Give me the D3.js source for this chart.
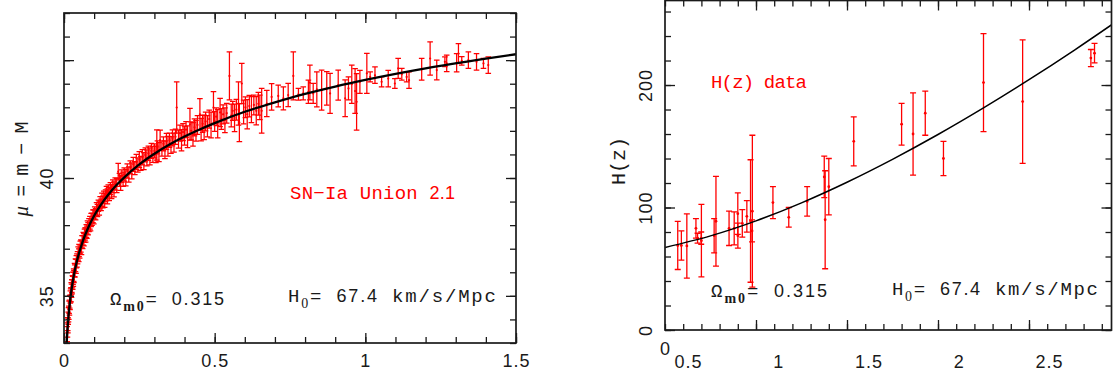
<!DOCTYPE html>
<html>
<head>
<meta charset="utf-8">
<script src="https://cdn.jsdelivr.net/npm/d3@7"></script>
<style>
  html, body { margin: 0; padding: 0; background: #fff; }
  svg { display: block; }
</style>
</head>
<body>
<svg id="chart" width="1113" height="379"></svg>
<script>
// ── SN-Ia Union 2.1 ────────────────────────────────────────
const snZ = [
  0.0105,0.0115,0.0125,0.013,0.014,0.015,0.016,0.017,0.018,0.019,
  0.020,0.021,0.022,0.023,0.024,0.025,0.026,0.027,0.028,0.029,
  0.030,0.031,0.032,0.033,0.035,0.036,0.038,0.040,0.041,0.043,
  0.045,0.047,0.049,0.050,0.052,0.054,0.056,0.058,0.060,0.062,
  0.064,0.066,0.068,0.070,0.072,0.074,0.076,0.078,0.080,0.083,
  0.086,0.088,0.090,0.093,0.096,0.099,
  0.102,0.105,0.108,0.111,0.114,0.117,0.120,0.123,0.126,0.129,
  0.132,0.135,0.138,0.141,0.144,0.147,0.150,0.154,0.158,0.162,
  0.166,0.170,0.175,0.180,0.184,0.188,0.192,0.196,0.200,0.205,
  0.210,0.215,0.220,0.225,0.230,0.235,0.240,0.245,0.250,0.255,
  0.260,0.265,0.270,0.275,0.280,0.285,0.290,0.295,
  0.300,0.305,0.308,0.310,0.315,0.319,0.325,0.330,0.335,0.340,
  0.345,0.350,0.355,0.360,0.365,0.370,0.374,0.380,0.385,0.390,
  0.395,0.400,0.405,0.410,0.418,0.422,0.428,0.433,0.438,0.443,
  0.451,0.455,0.460,0.465,0.470,0.476,0.482,0.488,0.496,0.500,
  0.505,0.510,0.518,0.522,0.528,0.534,0.540,0.549,0.555,0.560,
  0.566,0.572,0.579,0.582,0.590,0.596,0.602,0.608,0.615,0.622,
  0.630,0.638,0.645,0.650,
  0.656,0.673,0.689,0.711,0.728,0.744,0.761,0.778,0.794,0.811,
  0.816,0.827,0.839,0.855,0.872,0.883,0.910,0.933,0.944,0.955,
  0.966,0.971,0.982,1.005,1.016,1.032,1.054,1.076,1.098,1.109,
  1.121,1.137,1.145,1.187,1.215,1.237,1.264,1.270,1.303,1.309,
  1.320,1.342,1.369,1.392,1.408
];
const snMu = [
  33.38,33.55,33.80,33.75,34.05,34.20,34.28,34.52,34.50,34.75,
  34.72,34.95,35.02,35.05,35.30,35.22,35.42,35.38,35.60,35.55,
  35.75,35.70,35.88,35.82,36.10,36.05,36.30,36.25,36.45,36.50,
  36.62,36.80,36.72,36.92,36.88,37.05,37.12,37.05,37.30,37.28,
  37.42,37.38,37.55,37.62,37.58,37.75,37.70,37.90,37.85,38.00,
  38.10,38.02,38.22,38.25,38.38,38.35,
  38.52,38.46,38.68,38.62,38.82,38.72,38.95,38.86,39.08,38.98,
  39.18,39.05,39.25,39.38,39.22,39.45,39.32,39.55,39.42,39.65,
  39.52,39.75,39.68,40.27,39.92,39.80,40.08,39.95,40.15,40.02,
  40.30,40.15,40.45,40.30,40.58,40.42,40.68,40.55,40.78,40.62,
  40.88,40.72,40.98,40.85,41.05,40.92,41.15,41.00,
  41.15,41.00,41.40,41.30,41.10,41.61,41.25,41.45,41.20,41.55,
  41.35,41.60,41.40,41.70,41.50,41.75,42.99,41.65,41.90,41.60,
  41.95,41.80,42.05,41.75,42.28,42.00,41.85,42.15,42.00,42.25,
  42.70,42.05,42.30,42.15,42.40,42.20,42.50,42.25,42.99,42.40,
  42.60,42.30,42.78,42.50,42.70,42.45,42.75,44.33,42.65,42.85,
  42.55,42.90,43.16,42.35,44.01,42.80,43.00,42.70,43.05,42.90,
  43.10,42.85,43.15,43.00,
  42.85,43.16,43.44,43.48,43.38,43.52,44.33,43.55,43.59,43.66,
  44.05,43.59,43.76,43.73,43.80,43.59,43.94,43.38,43.80,43.98,
  43.69,43.23,44.08,44.44,44.29,44.36,44.08,44.22,44.01,44.65,
  44.40,44.29,44.15,44.61,45.07,44.58,44.93,44.86,44.89,45.28,
  44.97,45.00,44.93,44.86,44.79
];
const snErr = [
  .32,.30,.28,.32,.26,.30,.28,.26,.32,.27,
  .30,.26,.28,.30,.26,.28,.27,.30,.26,.28,
  .26,.30,.27,.26,.28,.26,.27,.30,.26,.28,
  .26,.28,.27,.26,.28,.27,.26,.30,.26,.28,
  .27,.26,.28,.26,.30,.27,.26,.28,.26,.28,
  .27,.26,.28,.26,.27,.30,
  .26,.24,.28,.26,.24,.30,.26,.24,.28,.25,
  .26,.30,.25,.27,.32,.26,.28,.25,.30,.27,
  .32,.26,.30,.35,.28,.32,.27,.30,.28,.35,
  .30,.32,.28,.34,.30,.28,.32,.30,.34,.30,
  .32,.36,.30,.34,.30,.36,.32,.34,
  .30,.35,.64,.28,.40,.42,.32,.30,.38,.34,
  .42,.30,.36,.34,.40,.32,1.09,.38,.34,.45,
  .36,.40,.34,.46,.67,.38,.50,.36,.44,.40,
  .67,.48,.36,.52,.40,.45,.38,.55,.67,.42,
  .38,.60,.60,.44,.40,.52,.42,1.02,.48,.40,
  .58,.44,.92,.81,.85,.50,.44,.62,.46,.55,
  .42,.60,.48,.52,
  .95,.56,.56,.46,.49,.49,1.02,.25,.28,.49,
  .74,.42,.74,.85,.71,.85,.64,.78,.49,.81,
  .95,1.20,.49,.85,.21,.35,.21,.35,.21,.42,
  .25,.21,.35,.46,.71,.42,.21,.35,.39,.42,
  .18,.35,.35,.21,.35
];

// ΛCDM model curve, Ωm0 = 0.315, H0 = 67.4
const muCurveZ = [0.008,0.01,0.012,0.015,0.02,0.025,0.03,0.035,0.04,0.05,
  0.06,0.07,0.08,0.09,0.1,0.12,0.15,0.175,0.2,0.25,0.3,0.35,0.4,0.45,0.5,
  0.6,0.7,0.8,0.9,1.0,1.2,1.4,1.5];
const muCurve = [32.77,33.26,33.66,34.15,34.78,35.27,35.68,36.02,36.32,36.82,
  37.23,37.58,37.88,38.15,38.40,38.82,39.34,39.71,40.03,40.58,41.03,41.42,41.76,42.06,42.33,
  42.81,43.21,43.57,43.88,44.16,44.65,45.06,45.25];

// ── H(z) data ───────────────────────────────────────────────
const hzZ = [0.07,0.09,0.12,0.17,0.179,0.199,0.20,0.27,0.28,0.352,
  0.3802,0.40,0.4004,0.4247,0.4497,0.47,0.4783,0.48,0.593,0.68,
  0.781,0.875,0.88,0.90,1.037,1.30,1.363,1.43,1.53,1.75,1.965,2.34,2.36];
const hzH = [69,69,68.6,83,75,75,72.9,77,88.8,83,
  83,95,77,87.1,92.8,89,80.9,97,104,92,
  105,125,90,117,154,168,160,177,140,202,186.5,222,226];
const hzErr = [19.6,12,26.2,8,4,5,29.6,14,36.6,14,
  13.5,17,10.2,11.2,12.9,50,9,62,13,8,
  12,17,40,23,20,17,33.6,18,14,40,50.4,7,8];

const hzCurveZ = [0,0.25,0.5,0.75,1,1.25,1.5,1.75,2,2.25,2.5];
const hzCurve = [67.4,76.86,89.11,103.83,120.66,139.33,159.59,181.31,204.32,228.55,253.90];

// ── tick labels ─────────────────────────────────────────────
const snXTicks = [0, 0.5, 1, 1.5];
const snYMajor = [35, 40, 45];
const snYLabels = [35, 40];
const hzYMajor = [0, 100, 200];
const hzXMajor = [0.5, 1, 1.5, 2];
const hzXLabels = [0.5, 1, 1.5, 2, 2.5];

// ── layout ──────────────────────────────────────────────────
const RED = '#ff0000';
const INK = '#1a1a1a';
const SANS = "'Liberation Sans', Arial, sans-serif";
const MONO = "'Liberation Mono', 'Courier New', monospace";
const SERIF = "'Liberation Serif', 'Times New Roman', serif";

const L = { x0: 64, x1: 516, y0: 13, y1: 343 };
const R = { x0: 665, x1: 1111.5, y0: 0.5, y1: 330 };

const xSN = d3.scaleLinear().domain([0, 1.5]).range([L.x0, L.x1]);
const ySN = d3.scaleLinear().domain([33, 47]).range([L.y1, L.y0]);
const xHz = d3.scaleLinear().domain([0, (R.x1 - R.x0) / 182]).range([R.x0, R.x1]);
const yHz = d3.scaleLinear().domain([0, 269]).range([R.y1, R.y0]);
// the x labels of the right panel sit off their ticks in the original
const xHzLab = d3.scaleLinear().domain([0.5, 2.5]).range([688, 1049]);

const svg = d3.select('#chart');
const defs = svg.append('defs');

// ── helpers ─────────────────────────────────────────────────

function ticks(g, axis, scale, vals, len, tx, ty) {
  g.append('g')
    .attr('transform', `translate(${tx},${ty})`)
    .call(axis(scale).tickValues(vals).tickSize(-len).tickFormat(''))
    .call(s => s.select('.domain').remove())
    .selectAll('line')
    .attr('stroke', INK)
    .attr('stroke-width', 1.3);
}

function frame(box, x, y, xMaj, xMin, yMaj, yMin) {
  const g = svg.append('g');
  [[xMin, 6], [xMaj, 10]].forEach(([v, n]) => {
    ticks(g, d3.axisBottom, x, v, n, 0, box.y1);
    ticks(g, d3.axisTop, x, v, n, 0, box.y0);
  });
  [[yMin, 6], [yMaj, 10]].forEach(([v, n]) => {
    ticks(g, d3.axisLeft, y, v, n, box.x0, 0);
    ticks(g, d3.axisRight, y, v, n, box.x1, 0);
  });
  g.append('rect')
    .attr('x', box.x0).attr('y', box.y0)
    .attr('width', box.x1 - box.x0).attr('height', box.y1 - box.y0)
    .attr('fill', 'none').attr('stroke', INK).attr('stroke-width', 1.7);
}

function clip(id, box) {
  defs.append('clipPath').attr('id', id)
    .append('rect')
    .attr('x', box.x0).attr('y', box.y0)
    .attr('width', box.x1 - box.x0).attr('height', box.y1 - box.y0);
  return svg.append('g').attr('clip-path', `url(#${id})`);
}

function errorBars(g, xs, vs, es, x, y, cap, r, w) {
  const data = xs.map((z, i) => ({ z, v: vs[i], e: es[i] }));
  g.append('g').selectAll('path')
    .data(data)
    .join('path')
    .attr('d', d => {
      const px = x(d.z), t = y(d.v + d.e), b = y(d.v - d.e);
      return `M${px},${t}V${b}M${px - cap},${t}H${px + cap}M${px - cap},${b}H${px + cap}`;
    })
    .attr('fill', 'none')
    .attr('stroke', RED)
    .attr('stroke-width', w);
  g.append('g').selectAll('circle')
    .data(data)
    .join('circle')
    .attr('cx', d => x(d.z)).attr('cy', d => y(d.v))
    .attr('r', r).attr('fill', RED);
}

function curve(g, zs, vs, x, y, w) {
  g.append('path')
    .datum(zs.map((z, i) => [z, vs[i]]))
    .attr('d', d3.line().x(d => x(d[0])).y(d => y(d[1])).curve(d3.curveMonotoneX))
    .attr('fill', 'none').attr('stroke', '#000').attr('stroke-width', w);
}

function xLabels(scale, vals, ty, dy) {
  const g = svg.append('g').attr('transform', `translate(0,${ty})`)
    .call(d3.axisBottom(scale).tickValues(vals).tickSize(0).tickFormat(d3.format('~g')));
  g.select('.domain').remove();
  g.attr('font-family', SANS).attr('font-size', 18);
  g.selectAll('text').attr('y', dy).attr('dy', null)
    .attr('fill', INK).attr('letter-spacing', 1);
}

function yLabels(scale, vals, xBase) {
  const g = svg.append('g').attr('transform', `translate(${xBase},0)`)
    .call(d3.axisLeft(scale).tickValues(vals).tickSize(0).tickPadding(0));
  g.select('.domain').remove();
  g.attr('font-family', SANS).attr('font-size', 18);
  g.selectAll('text')
    .attr('x', 0).attr('dy', null)
    .attr('transform', 'rotate(-90)')
    .attr('text-anchor', 'middle')
    .attr('fill', INK).attr('letter-spacing', 1);
}

// text pieces (letters in mono, digits in sans, optional subscripts),
// spaced out to the width seen in the picture
function note(x, y, parts, width, color) {
  const t = svg.append('text')
    .attr('x', x).attr('y', y)
    .attr('font-family', MONO).attr('font-size', 19)
    .attr('fill', color);
  let shift = 0;
  parts.forEach(p => {
    const dy = (p.sub ? 6 : 0) - shift;
    shift = p.sub ? 6 : 0;
    const s = t.append('tspan').attr('dy', dy).text(p.t);
    if (p.num) s.attr('font-family', SANS).attr('font-size', 18);
    if (p.sub) s.attr('font-family', SERIF).attr('font-size', 14)
      .attr('font-weight', p.bold ? 'bold' : null);
  });
  if (width) t.attr('textLength', width).attr('lengthAdjust', 'spacing');
  return t;
}

function axisTitle(cx, cy, parts, width) {
  const t = svg.append('text')
    .attr('transform', `translate(${cx},${cy}) rotate(-90)`)
    .attr('text-anchor', 'middle')
    .attr('font-family', MONO).attr('font-size', 20)
    .attr('fill', INK);
  parts.forEach(p => {
    const s = t.append('tspan').text(p.t);
    if (p.italic) s.attr('font-family', SERIF).attr('font-style', 'italic').attr('font-size', 21);
  });
  t.attr('textLength', width).attr('lengthAdjust', 'spacing');
}

const omegaParts = [{ t: 'Ω' }, { t: 'm0', sub: true, bold: true }, { t: '= ' }, { t: '0.315', num: true }];
const hubbleParts = [{ t: 'H' }, { t: '0', sub: true }, { t: '= ' }, { t: '67.4', num: true }, { t: ' km/s/Mpc' }];

// ── left panel: distance modulus ────────────────────────────
const gL = clip('clipL', L);
errorBars(gL, snZ, snMu, snErr, xSN, ySN, 2.8, 1.1, 1.25);
curve(gL, muCurveZ, muCurve, xSN, ySN, 2.3);

frame(L, xSN, ySN, snXTicks, d3.range(0, 1.501, 0.1),
  snYMajor, d3.range(33, 47.01, 1));
xLabels(xSN, snXTicks, L.y1, 24);
yLabels(ySN, snYLabels, 53);
axisTitle(28, 169, [{ t: 'μ', italic: true }, { t: '=m−M' }], 95);

note(290, 199, [{ t: 'SN−Ia Union ' }, { t: '2.1', num: true }], 165, RED);
note(110, 305, omegaParts, 114, INK);
note(288, 302, hubbleParts, 208, INK);

// ── right panel: H(z) ───────────────────────────────────────
const gR = clip('clipR', R);
errorBars(gR, hzZ, hzH, hzErr, xHz, yHz, 3, 1.4, 1.3);
curve(gR, hzCurveZ, hzCurve, xHz, yHz, 1.5);

frame(R, xHz, yHz, hzXMajor, d3.range(0, 2.45, 0.1),
  hzYMajor, d3.range(0, 269, 20));
xLabels(xHzLab, hzXLabels, R.y1, 38);
yLabels(yHz, hzYMajor, 652);
svg.append('text')
  .attr('x', xHz(0)).attr('y', 355)
  .attr('text-anchor', 'middle')
  .attr('font-family', SANS).attr('font-size', 18)
  .attr('fill', INK)
  .text('0');
axisTitle(625, 161, [{ t: 'H(z)' }], 48);

note(711, 88, [{ t: 'H(z) data' }], 96, RED);
note(711, 297, omegaParts, 116, INK);
note(892, 295, hubbleParts, 206, INK);
</script>
</body>
</html>
